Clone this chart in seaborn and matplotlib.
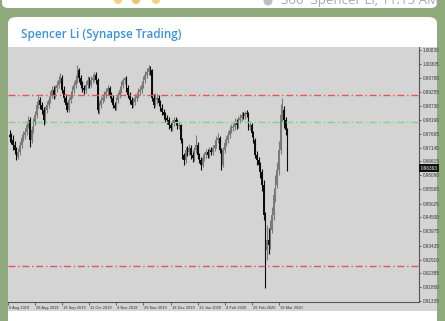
import numpy as np
import matplotlib
matplotlib.use("Agg")
import matplotlib.pyplot as plt
from matplotlib.patches import Rectangle, FancyBboxPatch, Ellipse
import matplotlib.transforms as mtransforms
import seaborn as sns

# ---------------- data (USDCHF-like daily bars) ----------------
opens = [0.9762, 0.9754, 0.9743, 0.9724, 0.9705, 0.9679, 0.9697, 0.9724, 0.9750, 0.9762,
         0.9773, 0.9799, 0.9818, 0.9743, 0.9781, 0.9811, 0.9837, 0.9875, 0.9894, 0.9875,
         0.9856, 0.9818, 0.9856, 0.9875, 0.9894, 0.9913, 0.9932, 0.9913, 0.9939, 0.9951,
         0.9970, 0.9977, 0.9932, 0.9902, 0.9875, 0.9856, 0.9894, 0.9913, 0.9932, 0.9951,
         0.9970, 1.0007, 0.9977, 0.9951, 0.9939, 0.9932, 0.9951, 0.9970, 0.9951, 0.9970,
         0.9977, 0.9989, 0.9970, 0.9856, 0.9875, 0.9894, 0.9902, 0.9913, 0.9924, 0.9939,
         0.9913, 0.9902, 0.9875, 0.9864, 0.9894, 0.9913, 0.9932, 0.9951, 0.9970, 0.9977,
         0.9939, 0.9913, 0.9894, 0.9875, 0.9886, 0.9902, 0.9913, 0.9924, 0.9932, 0.9951,
         0.9970, 0.9989, 1.0000, 1.0015, 1.0007, 0.9902, 0.9875, 0.9894, 0.9902, 0.9883,
         0.9864, 0.9849, 0.9837, 0.9826, 0.9818, 0.9799, 0.9788, 0.9807, 0.9818, 0.9811,
         0.9796, 0.9799, 0.9743, 0.9686, 0.9667, 0.9705, 0.9697, 0.9713, 0.9686, 0.9675,
         0.9705, 0.9724, 0.9686, 0.9667, 0.9648, 0.9675, 0.9686, 0.9697, 0.9686, 0.9705,
         0.9697, 0.9713, 0.9724, 0.9743, 0.9750, 0.9705, 0.9648, 0.9705, 0.9731, 0.9743,
         0.9762, 0.9781, 0.9788, 0.9792, 0.9811, 0.9799, 0.9818, 0.9826, 0.9837, 0.9834,
         0.9845, 0.9841, 0.9792, 0.9799, 0.9769, 0.9743, 0.9686, 0.9667, 0.9648, 0.9622,
         0.9573, 0.9459, 0.9327, 0.9365, 0.9346, 0.9403, 0.9459, 0.9535, 0.9573, 0.9629,
         0.9705, 0.9837, 0.9856, 0.9818, 0.9781]
closes = [0.9754, 0.9743, 0.9724, 0.9705, 0.9679, 0.9697, 0.9724, 0.9750, 0.9762, 0.9773,
          0.9799, 0.9818, 0.9743, 0.9781, 0.9811, 0.9837, 0.9875, 0.9894, 0.9875, 0.9856,
          0.9818, 0.9856, 0.9875, 0.9894, 0.9913, 0.9932, 0.9913, 0.9939, 0.9951, 0.9970,
          0.9977, 0.9932, 0.9902, 0.9875, 0.9856, 0.9894, 0.9913, 0.9932, 0.9951, 0.9970,
          1.0007, 0.9977, 0.9951, 0.9939, 0.9932, 0.9951, 0.9970, 0.9951, 0.9970, 0.9977,
          0.9989, 0.9970, 0.9856, 0.9875, 0.9894, 0.9902, 0.9913, 0.9924, 0.9939, 0.9913,
          0.9902, 0.9875, 0.9864, 0.9894, 0.9913, 0.9932, 0.9951, 0.9970, 0.9977, 0.9939,
          0.9913, 0.9894, 0.9875, 0.9886, 0.9902, 0.9913, 0.9924, 0.9932, 0.9951, 0.9970,
          0.9989, 1.0000, 1.0015, 1.0007, 0.9902, 0.9875, 0.9894, 0.9902, 0.9883, 0.9864,
          0.9849, 0.9837, 0.9826, 0.9818, 0.9799, 0.9788, 0.9807, 0.9818, 0.9811, 0.9796,
          0.9799, 0.9743, 0.9686, 0.9667, 0.9705, 0.9697, 0.9713, 0.9686, 0.9675, 0.9705,
          0.9724, 0.9686, 0.9667, 0.9648, 0.9675, 0.9686, 0.9697, 0.9686, 0.9705, 0.9697,
          0.9713, 0.9724, 0.9743, 0.9750, 0.9705, 0.9648, 0.9705, 0.9731, 0.9743, 0.9762,
          0.9781, 0.9788, 0.9792, 0.9811, 0.9799, 0.9818, 0.9826, 0.9837, 0.9834, 0.9845,
          0.9841, 0.9792, 0.9799, 0.9769, 0.9743, 0.9686, 0.9667, 0.9648, 0.9622, 0.9573,
          0.9459, 0.9327, 0.9365, 0.9346, 0.9403, 0.9459, 0.9535, 0.9573, 0.9629, 0.9705,
          0.9837, 0.9856, 0.9818, 0.9781, 0.9636]
highs = [0.9781, 0.9770, 0.9760, 0.9738, 0.9718, 0.9712, 0.9740, 0.9765, 0.9778, 0.9790,
         0.9815, 0.9835, 0.9830, 0.9795, 0.9826, 0.9852, 0.9890, 0.9910, 0.9905, 0.9888,
         0.9868, 0.9870, 0.9890, 0.9908, 0.9928, 0.9948, 0.9945, 0.9952, 0.9965, 0.9985,
         0.9996, 0.9988, 0.9945, 0.9915, 0.9888, 0.9905, 0.9928, 0.9945, 0.9966, 0.9988,
         1.0026, 1.0015, 0.9990, 0.9965, 0.9952, 0.9965, 0.9984, 0.9982, 0.9985, 0.9992,
         1.0000, 0.9998, 0.9978, 0.9890, 0.9908, 0.9918, 0.9928, 0.9940, 0.9951, 0.9948,
         0.9925, 0.9912, 0.9888, 0.9905, 0.9926, 0.9946, 0.9964, 0.9978, 0.9981, 0.9985,
         0.9950, 0.9925, 0.9905, 0.9900, 0.9915, 0.9926, 0.9938, 0.9946, 0.9965, 0.9985,
         1.0002, 1.0014, 1.0026, 1.0022, 1.0010, 0.9915, 0.9920, 0.9915, 0.9912, 0.9895,
         0.9878, 0.9860, 0.9850, 0.9838, 0.9830, 0.9810, 0.9820, 0.9830, 0.9828, 0.9822,
         0.9812, 0.9805, 0.9750, 0.9695, 0.9718, 0.9720, 0.9728, 0.9722, 0.9698, 0.9718,
         0.9762, 0.9735, 0.9695, 0.9678, 0.9688, 0.9698, 0.9710, 0.9708, 0.9718, 0.9715,
         0.9725, 0.9738, 0.9756, 0.9769, 0.9758, 0.9712, 0.9718, 0.9745, 0.9756, 0.9776,
         0.9795, 0.9802, 0.9806, 0.9825, 0.9822, 0.9832, 0.9840, 0.9850, 0.9848, 0.9854,
         0.9856, 0.9848, 0.9815, 0.9808, 0.9778, 0.9750, 0.9700, 0.9680, 0.9660, 0.9635,
         0.9590, 0.9470, 0.9420, 0.9410, 0.9440, 0.9490, 0.9560, 0.9610, 0.9660, 0.9740,
         0.9880, 0.9902, 0.9870, 0.9830, 0.9790]
lows = [0.9735, 0.9728, 0.9705, 0.9690, 0.9667, 0.9670, 0.9686, 0.9712, 0.9738, 0.9745,
        0.9760, 0.9788, 0.9716, 0.9730, 0.9768, 0.9800, 0.9826, 0.9862, 0.9860, 0.9840,
        0.9799, 0.9808, 0.9845, 0.9864, 0.9882, 0.9900, 0.9898, 0.9902, 0.9926, 0.9940,
        0.9958, 0.9920, 0.9888, 0.9860, 0.9849, 0.9848, 0.9882, 0.9900, 0.9920, 0.9940,
        0.9958, 0.9962, 0.9938, 0.9925, 0.9918, 0.9920, 0.9940, 0.9938, 0.9942, 0.9958,
        0.9965, 0.9955, 0.9845, 0.9842, 0.9862, 0.9882, 0.9890, 0.9900, 0.9912, 0.9900,
        0.9888, 0.9862, 0.9856, 0.9855, 0.9882, 0.9900, 0.9920, 0.9940, 0.9955, 0.9926,
        0.9900, 0.9880, 0.9862, 0.9866, 0.9875, 0.9890, 0.9902, 0.9912, 0.9920, 0.9940,
        0.9958, 0.9976, 0.9990, 0.9990, 0.9890, 0.9865, 0.9868, 0.9880, 0.9870, 0.9852,
        0.9836, 0.9824, 0.9812, 0.9805, 0.9786, 0.9775, 0.9778, 0.9795, 0.9800, 0.9785,
        0.9786, 0.9730, 0.9672, 0.9648, 0.9655, 0.9684, 0.9685, 0.9672, 0.9660, 0.9665,
        0.9695, 0.9672, 0.9655, 0.9629, 0.9640, 0.9664, 0.9675, 0.9674, 0.9676, 0.9685,
        0.9686, 0.9702, 0.9712, 0.9732, 0.9692, 0.9629, 0.9640, 0.9695, 0.9720, 0.9732,
        0.9750, 0.9770, 0.9776, 0.9780, 0.9786, 0.9788, 0.9806, 0.9815, 0.9822, 0.9824,
        0.9828, 0.9780, 0.9782, 0.9755, 0.9730, 0.9675, 0.9650, 0.9632, 0.9600, 0.9550,
        0.9440, 0.9183, 0.9290, 0.9310, 0.9330, 0.9390, 0.9440, 0.9510, 0.9560, 0.9610,
        0.9690, 0.9810, 0.9790, 0.9760, 0.9625]

date_labels = ["6 Aug 2019", "28 Aug 2019", "19 Sep 2019", "11 Oct 2019", "4 Nov 2019",
               "26 Nov 2019", "18 Dec 2019", "13 Jan 2020", "4 Feb 2020", "26 Feb 2020",
               "19 Mar 2020"]
date_label_bars = [-1, 15, 31, 47, 63, 79, 95, 111, 127, 143, 159]

price_labels = ["1.00830", "1.00305", "0.99780", "0.99255", "0.98730", "0.98190",
                "0.97665", "0.97140", "0.96615", "0.96090", "0.95565", "0.95025",
                "0.94500", "0.93975", "0.93435", "0.92910", "0.92385", "0.91860",
                "0.91335"]
price_ticks = [1.00830, 1.00305, 0.99780, 0.99255, 0.98730, 0.98190, 0.97665, 0.97140,
               0.96615, 0.96090, 0.95565, 0.95025, 0.94500, 0.93975, 0.93435, 0.92910,
               0.92385, 0.91860, 0.91335]

resistance_level = 0.99129
mid_level = 0.98097
support_level = 0.92654
current_price = 0.96363

title_text = "Spencer Li (Synapse Trading)"
header_text = "300  Spencer Li, 11:15 AM"

# ---------------- styling ----------------
sns.set_theme(style="white")
plt.rcParams["font.family"] = ["Liberation Sans", "DejaVu Sans"]

W, H = 445, 321
fig = plt.figure(figsize=(W / 100, H / 100), dpi=100)
fig.patch.set_facecolor("#8fab7e")

def px(x0, y0, w, h):
    # figure-fraction rectangle from pixel box (top-left origin)
    return (x0 / W, 1 - (y0 + h) / H, w / W, h / H)

# previous message bubble (top, cut off)
bx, by, bw, bh = px(2, -12, 435, 20)
fig.add_artist(FancyBboxPatch((bx, by), bw, bh, boxstyle="round,pad=0,rounding_size=0.015",
                              transform=fig.transFigure, facecolor="white", edgecolor="none", zorder=1))
fig.add_artist(Ellipse((268 / W, 1 - 1 / H), 9 / W, 9 / H, transform=fig.transFigure,
                       facecolor="#b8bec4", edgecolor="none", zorder=2))
for ex, col in [(118, "#f2c46a"), (136, "#f0b050"), (156, "#f2c46a")]:
    fig.add_artist(Ellipse((ex / W, 1 - 0 / H), 8 / W, 8 / H, transform=fig.transFigure,
                           facecolor=col, edgecolor="none", zorder=2, alpha=0.8))
fig.text(281 / W, 1 - 0.5 / H, header_text, fontsize=9.5, color="#a3abb2",
         ha="left", va="center", family=["Open Sans", "DejaVu Sans"], zorder=2)

# card
cx, cy, cw, ch = px(8, 17, 429, 320)
fig.add_artist(FancyBboxPatch((cx, cy), cw, ch, boxstyle="round,pad=0,rounding_size=0.02",
                              transform=fig.transFigure, facecolor="white", edgecolor="none", zorder=1))
fig.text(21 / W, 1 - 34.5 / H, title_text, fontsize=8.4, color="#3a93d6", fontweight="semibold",
         ha="left", va="center", family=["Open Sans", "DejaVu Sans"], zorder=2)

# chart image background
gx, gy, gw, gh = px(8, 47, 429, 264)
fig.add_artist(Rectangle((gx, gy), gw, gh, transform=fig.transFigure,
                         facecolor="#d4d4d4", edgecolor="none", zorder=1.5))

# axes
ax = fig.add_axes(px(8, 47, 411, 255))
ax.set_zorder(3)
ax.set_facecolor("#d4d4d4")

idx = np.arange(len(closes))
o = np.array(opens)
c = np.array(closes)
up = c >= o
colors = np.where(up, "#7a7a7a", "#0c0c0c")
ax.vlines(idx, lows, highs, colors=colors, linewidth=0.8)
body_bottom = np.minimum(o, c)
body_height = np.maximum(np.abs(c - o), 0.0003)
ax.bar(idx, body_height, bottom=body_bottom, width=0.9, color=colors, linewidth=0)

dashdot = (0, (5, 2, 1, 2))
ax.axhline(resistance_level, color="#e0585c", lw=1.0, ls=dashdot)
ax.axhline(mid_level, color="#86d486", lw=1.0, ls=dashdot)
ax.axhline(support_level, color="#e0585c", lw=1.0, ls=dashdot)

ax.set_xlim(-0.4, -0.4 + 411 / 1.697)
ax.set_ylim(0.91304, 1.00943)

ax.yaxis.tick_right()
ax.set_yticks(price_ticks)
ax.set_yticklabels(price_labels)
ax.set_xticks(date_label_bars)
ax.set_xticklabels(date_labels, ha="left")
ax.tick_params(axis="y", which="both", right=True, left=False, length=1.5, width=0.5,
               pad=1.2, labelsize=3.3, colors="#333333", direction="out")
ax.tick_params(axis="x", which="both", bottom=True, length=1.8, width=0.5, pad=1.0,
               labelsize=2.9, colors="#333333", direction="out")
for lab in ax.get_xticklabels():
    lab.set_transform(lab.get_transform() + mtransforms.ScaledTranslation(1 / 100, 0, fig.dpi_scale_trans))

for s in ["left", "top"]:
    ax.spines[s].set_visible(False)
for s in ["right", "bottom"]:
    ax.spines[s].set_color("#555555")
    ax.spines[s].set_linewidth(0.8)

# current price tag
trans = mtransforms.blended_transform_factory(ax.transAxes, ax.transData)
ax.text(1.004, current_price, f"{current_price:.5f}", transform=trans, fontsize=3.3,
        color="white", ha="left", va="center", clip_on=False,
        bbox=dict(boxstyle="square,pad=0.35", facecolor="#111111", edgecolor="none"))

# wallpaper strip to the left of the chart (hides the clipped first date label)
fig.add_artist(Rectangle((0, 0), 8 / W, 1 - 17 / H, transform=fig.transFigure,
                         facecolor="#8fab7e", edgecolor="none", zorder=10))

fig.savefig("out.png", dpi=100, facecolor=fig.get_facecolor())
